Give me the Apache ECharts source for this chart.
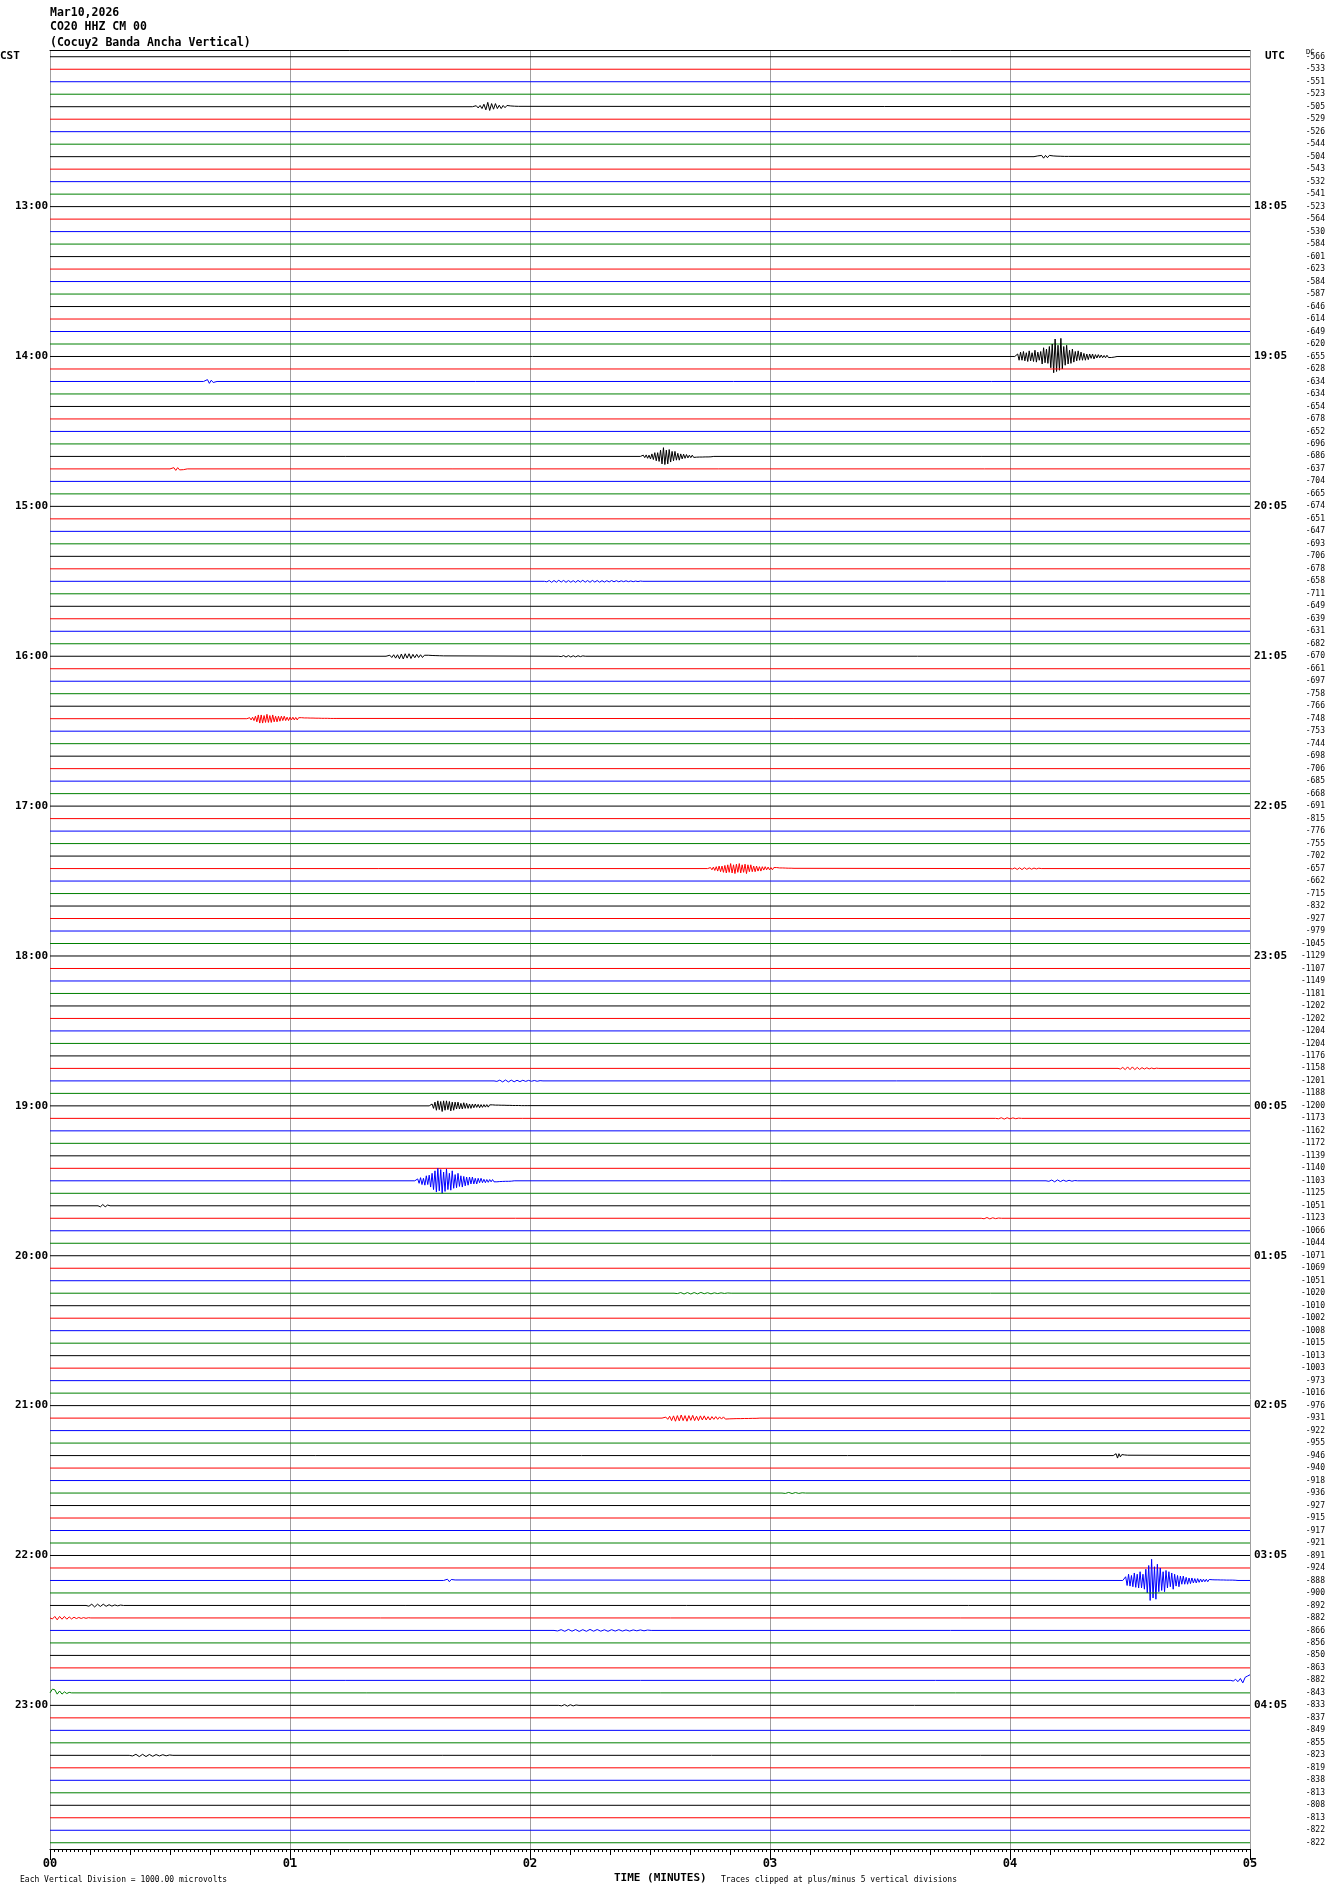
<!DOCTYPE html>
<html>
<head>
<meta charset="utf-8">
<script src="https://cdn.jsdelivr.net/npm/echarts@6/dist/echarts.min.js"></script>
<style>
html,body{margin:0;padding:0;background:#fff;}
#c{width:1330px;height:1894px;}
</style>
</head>
<body>
<div id="c"></div>
<script>
// ---- data ----
const traceCount = 144;
const traceColors = ['#000000', '#ff0000', '#0000ff', '#008000'];
const dcValues = [
 -566,-533,-551,-523,-505,-529,-526,-544,-504,-543,-532,-541,
 -523,-564,-530,-584,-601,-623,-584,-587,-646,-614,-649,-620,
 -655,-628,-634,-634,-654,-678,-652,-696,-686,-637,-704,-665,
 -674,-651,-647,-693,-706,-678,-658,-711,-649,-639,-631,-682,
 -670,-661,-697,-758,-766,-748,-753,-744,-698,-706,-685,-668,
 -691,-815,-776,-755,-702,-657,-662,-715,-832,-927,-979,-1045,
 -1129,-1107,-1149,-1181,-1202,-1202,-1204,-1204,-1176,-1158,-1201,-1188,
 -1200,-1173,-1162,-1172,-1139,-1140,-1103,-1125,-1051,-1123,-1066,-1044,
 -1071,-1069,-1051,-1020,-1010,-1002,-1008,-1015,-1013,-1003,-973,-1016,
 -976,-931,-922,-955,-946,-940,-918,-936,-927,-915,-917,-921,
 -891,-924,-888,-900,-892,-882,-866,-856,-850,-863,-882,-843,
 -833,-837,-849,-855,-823,-819,-838,-813,-808,-813,-822,-822
];
const hourTraces = [12,24,36,48,60,72,84,96,108,120,132];
const cstLabels = ['13:00','14:00','15:00','16:00','17:00','18:00','19:00','20:00','21:00','22:00','23:00'];
const utcLabels = ['18:05','19:05','20:05','21:05','22:05','23:05','00:05','01:05','02:05','03:05','04:05'];
const minuteLabels = ['00','01','02','03','04','05'];

// events: trace index, start (minutes), sample step (minutes), amplitudes (in trace spacings)
const eventTrace = [24,122,90,32,65,84,53,48,109,4,8,26,33,42,48,65,81,82,85,90,92,93,99,112,115,122,124,125,126,130,131,132,136];
const eventStart = [4.02,4.47,1.52,2.46,2.74,1.58,0.82,1.40,2.55,1.76,4.10,0.64,0.50,2.06,2.12,4.00,4.45,1.85,3.94,4.15,0.20,3.88,2.60,4.43,3.05,1.64,0.15,0.00,2.10,4.92,0.00,2.12,0.33];
const eventStep = [0.006,0.006,0.006,0.006,0.006,0.006,0.006,0.008,0.008,0.008,0.008,0.008,0.008,0.010,0.010,0.010,0.010,0.012,0.012,0.012,0.010,0.012,0.014,0.006,0.014,0.008,0.012,0.010,0.015,0.010,0.010,0.012,0.014];
const eventAmp = [
 [0.1,-0.2,0.3,-0.35,0.3,-0.4,0.35,-0.3,0.4,-0.45,0.35,-0.3,0.4,-0.5,0.45,-0.35,0.3,-0.4,0.6,-0.7,0.5,-0.6,0.55,-0.8,0.9,-1.0,1.3,-1.4,1.2,-0.9,1.1,-1.45,1.0,-0.8,0.7,-0.9,0.6,-0.5,0.55,-0.6,0.45,-0.4,0.35,-0.45,0.3,-0.35,0.3,-0.25,0.3,-0.2,0.25,-0.2,0.15,-0.2,0.2,-0.15,0.12,-0.15,0.1,-0.12,0.1,-0.08,0.1,-0.1,0.08,-0.06,0.08,-0.05,0.05,-0.04],
 [0.15,-0.3,0.4,-0.5,0.45,-0.4,0.5,-0.6,0.55,-0.5,0.6,-0.7,0.6,-0.5,0.7,-0.9,1.0,-1.2,1.6,-1.7,1.4,-1.1,1.5,-1.3,0.9,-1.0,0.8,-0.7,0.9,-0.8,0.6,-0.7,0.5,-0.6,0.7,-0.5,0.45,-0.4,0.5,-0.35,0.3,-0.35,0.3,-0.25,0.3,-0.2,0.25,-0.2,0.2,-0.15,0.2,-0.15,0.15,-0.12,0.12,-0.1,0.1,-0.1,0.1,-0.08,0.08,-0.06,0.06,-0.05,0.06,-0.05,0.05,-0.04,0.05,-0.04,0.04,-0.03,0.04,-0.03,0.03,-0.03,0.03,-0.02,0.02],
 [0.1,-0.15,0.2,-0.25,0.3,-0.2,0.35,-0.4,0.3,-0.45,0.5,-0.6,0.7,-0.8,0.9,-1.0,0.8,-0.9,1.0,-0.7,0.85,-0.95,0.7,-0.6,0.75,-0.8,0.6,-0.5,0.55,-0.6,0.45,-0.4,0.5,-0.35,0.4,-0.3,0.35,-0.3,0.25,-0.3,0.25,-0.2,0.25,-0.2,0.15,-0.2,0.15,-0.12,0.15,-0.1,0.12,-0.1,0.08,-0.1,0.08,-0.06,0.08,-0.05,0.06,-0.05,0.05,-0.04,0.04,-0.03,0.04,-0.03,0.03,-0.02],
 [0.05,-0.1,0.1,-0.12,0.15,-0.1,0.2,-0.2,0.25,-0.3,0.35,-0.3,0.4,-0.5,0.6,-0.7,0.65,-0.5,0.6,-0.55,0.45,-0.4,0.35,-0.4,0.3,-0.25,0.3,-0.2,0.2,-0.18,0.15,-0.15,0.12,-0.1,0.1,-0.1,0.08,-0.08,0.06,-0.06,0.05,-0.05,0.05,-0.04,0.04,-0.03,0.04,-0.03,0.03,-0.03],
 [0.05,-0.08,0.1,-0.12,0.15,-0.15,0.2,-0.2,0.25,-0.2,0.3,-0.25,0.35,-0.3,0.3,-0.4,0.35,-0.3,0.4,-0.35,0.3,-0.4,0.35,-0.3,0.3,-0.35,0.4,-0.3,0.25,-0.3,0.25,-0.2,0.25,-0.2,0.2,-0.15,0.2,-0.15,0.12,-0.15,0.1,-0.12,0.1,-0.08,0.1,-0.08,0.06,-0.08,0.06,-0.05,0.05,-0.05,0.04,-0.04,0.04,-0.03,0.03,-0.03,0.03,-0.02],
 [0.1,-0.15,0.2,-0.3,0.35,-0.4,0.3,-0.35,0.45,-0.4,0.35,-0.4,0.3,-0.35,0.4,-0.3,0.35,-0.3,0.25,-0.3,0.25,-0.2,0.25,-0.25,0.2,-0.2,0.2,-0.15,0.2,-0.15,0.15,-0.15,0.12,-0.12,0.15,-0.1,0.12,-0.1,0.1,-0.1,0.1,-0.08,0.08,-0.08,0.08,-0.06,0.06,-0.06,0.06,-0.05,0.05,-0.05,0.05,-0.04,0.04,-0.04,0.04,-0.03,0.04,-0.03,0.03,-0.03,0.03,-0.02,0.03,-0.02,0.02,-0.02,0.02,-0.02],
 [0.05,-0.08,0.1,-0.12,0.15,-0.2,0.25,-0.3,0.35,-0.3,0.35,-0.25,0.3,-0.35,0.3,-0.25,0.3,-0.3,0.25,-0.2,0.25,-0.2,0.2,-0.2,0.15,-0.2,0.15,-0.12,0.15,-0.12,0.1,-0.12,0.1,-0.1,0.1,-0.08,0.08,-0.08,0.08,-0.06,0.06,-0.06,0.06,-0.05,0.05,-0.05,0.05,-0.04,0.04,-0.04,0.04,-0.03,0.03,-0.03,0.03,-0.03,0.03,-0.02,0.02,-0.02,0.02,-0.02],
 [0.05,-0.08,0.1,-0.12,0.15,-0.12,0.2,-0.18,0.22,-0.2,0.15,-0.2,0.18,-0.15,0.12,-0.15,0.1,-0.12,0.1,-0.08,0.08,-0.08,0.06,-0.06,0.05,-0.05,0.04,-0.04,0.04,-0.03],
 [0.05,-0.08,0.1,-0.15,0.2,-0.18,0.25,-0.2,0.22,-0.25,0.2,-0.2,0.25,-0.2,0.18,-0.22,0.2,-0.15,0.2,-0.18,0.15,-0.18,0.15,-0.12,0.15,-0.12,0.1,-0.12,0.1,-0.1,0.08,-0.1,0.08,-0.06,0.06,-0.06,0.05,-0.05,0.04,-0.04,0.04,-0.03,0.03,-0.03,0.03,-0.02,0.02,-0.02,0.02,-0.02],
 [0.05,-0.08,0.1,-0.1,0.15,-0.2,0.25,-0.35,0.3,-0.25,0.2,-0.25,0.15,-0.12,0.15,-0.1,0.08,-0.1,0.06,-0.06,0.05,-0.04,0.04,-0.03],
 [0.04,-0.06,0.08,-0.1,0.12,-0.1,0.08,-0.1,0.06,-0.06,0.05,-0.04,0.04,-0.03,0.03,-0.02,0.02,-0.02],
 [0.1,-0.15,0.15,-0.1,0.08,-0.05],
 [0.05,-0.1,0.12,-0.1,0.08,-0.08,0.06,-0.04],
 [0.04,-0.06,0.08,-0.06,0.07,-0.08,0.06,-0.07,0.08,-0.06,0.07,-0.05,0.08,-0.07,0.06,-0.08,0.07,-0.06,0.08,-0.07,0.06,-0.06,0.07,-0.05,0.06,-0.05,0.05,-0.06,0.04,-0.05,0.04,-0.04,0.03,-0.04,0.03,-0.03,0.03,-0.02,0.02,-0.02],
 [0.03,-0.05,0.06,-0.05,0.06,-0.04,0.05,-0.04,0.03,-0.03],
 [0.03,-0.05,0.07,-0.06,0.08,-0.07,0.06,-0.05,0.05,-0.04,0.03,-0.03],
 [0.05,-0.08,0.1,-0.12,0.1,-0.12,0.1,-0.08,0.08,-0.06,0.05,-0.05,0.04,-0.03,0.03,-0.02],
 [0.04,-0.06,0.08,-0.07,0.08,-0.06,0.07,-0.05,0.06,-0.05,0.04,-0.04,0.03,-0.03,0.03,-0.02],
 [0.03,-0.05,0.06,-0.05,0.04,-0.04,0.03,-0.02],
 [0.04,-0.06,0.08,-0.07,0.06,-0.05,0.04,-0.04,0.03,-0.02],
 [0.08,-0.1,0.08,-0.06],
 [0.04,-0.06,0.05,-0.04,0.03,-0.02],
 [0.03,-0.05,0.06,-0.05,0.06,-0.05,0.05,-0.06,0.04,-0.04,0.05,-0.03,0.03,-0.03,0.02,-0.02],
 [0.05,-0.15,0.2,-0.15,0.1,-0.08,0.06,-0.05,0.04,-0.03],
 [0.03,-0.05,0.04,-0.04,0.03,-0.02],
 [0.06,-0.1,0.1,-0.08,0.06,-0.04],
 [0.06,-0.1,0.12,-0.1,0.08,-0.1,0.07,-0.06,0.05,-0.04,0.03,-0.03],
 [0.08,-0.12,0.15,-0.12,0.1,-0.12,0.1,-0.08,0.08,-0.06,0.05,-0.04,0.04,-0.03,0.03,-0.02],
 [0.04,-0.06,0.07,-0.08,0.06,-0.07,0.08,-0.06,0.07,-0.08,0.06,-0.07,0.06,-0.05,0.07,-0.06,0.05,-0.06,0.05,-0.04,0.05,-0.04,0.03,-0.04,0.03,-0.03],
 [0.05,-0.08,0.1,-0.15,0.2,-0.25,-0.35,-0.45,-0.5],
 [-0.3,-0.25,0.1,-0.15,0.1,-0.08,0.05,-0.04],
 [0.04,-0.06,0.06,-0.05,0.04,-0.03],
 [0.05,-0.08,0.1,-0.08,0.1,-0.07,0.08,-0.06,0.05,-0.05,0.04,-0.03]
];

// ---- build chart ----
const leftCat = [], rightCat = [], dcCat = [];
for (let i = 0; i < traceCount; i++) {
  const h = hourTraces.indexOf(i);
  leftCat.push(h >= 0 ? cstLabels[h] : '');
  rightCat.push(h >= 0 ? utcLabels[h] : '');
  dcCat.push(String(dcValues[i]));
}

const series = [];
for (let i = 0; i < traceCount; i++) {
  const evs = [];
  eventTrace.forEach((t, k) => { if (t === i) evs.push(k); });
  evs.sort((a, b) => eventStart[a] - eventStart[b]);
  const pts = [[0, i]];
  evs.forEach(k => {
    const t0 = eventStart[k], dt = eventStep[k], a = eventAmp[k];
    pts.push([t0, i]);
    for (let j = 0; j < a.length; j++) {
      const t = t0 + (j + 1) * dt;
      if (t <= 5) pts.push([t, i + a[j]]);
    }
    const tEnd = t0 + (a.length + 1) * dt;
    if (tEnd <= 5) pts.push([tEnd, i]);
  });
  if (pts[pts.length - 1][0] < 5) pts.push([5, i]);
  series.push({
    type: 'line', xAxisIndex: 0, yAxisIndex: 0, data: pts,
    symbol: 'none', silent: true, animation: false,
    lineStyle: { color: traceColors[i % 4], width: 1 }
  });
}

const mono = 'DejaVu Sans Mono';
const gridBox = { left: 50, right: 80, top: 50.5, bottom: 45, containLabel: false };
const noTick = { show: false };
const chart = echarts.init(document.getElementById('c'), null, { renderer: 'canvas' });
chart.setOption({
  backgroundColor: '#ffffff',
  animation: false,
  grid: [Object.assign({}, gridBox), Object.assign({}, gridBox)],
  xAxis: [
    {
      gridIndex: 0, type: 'value', min: 0, max: 5, interval: 1, position: 'bottom',
      axisLine: { show: true, onZero: false, lineStyle: { color: '#000', width: 1 } },
      axisTick: { show: true, length: 11, lineStyle: { color: '#000' } },
      minorTick: noTick,
      splitLine: { show: true, lineStyle: { color: '#a0a0a0', width: 1 } },
      axisLabel: { margin: 9, fontFamily: mono, fontWeight: 'bold', fontSize: 12, color: '#000',
        formatter: v => minuteLabels[Math.round(v)] },
    },
    {
      gridIndex: 1, type: 'value', min: 0, max: 5, interval: 1 / 6, position: 'bottom',
      axisLine: { show: false, onZero: false },
      axisTick: { show: true, length: 6, lineStyle: { color: '#000' } },
      minorTick: { show: true, splitNumber: 10, length: 3, lineStyle: { color: '#000' } },
      splitLine: { show: false },
      axisLabel: { show: false }
    },
    {
      gridIndex: 1, type: 'value', min: 0, max: 5, interval: 1, position: 'top',
      axisLine: { show: true, onZero: false, lineStyle: { color: '#000', width: 1 } },
      axisTick: noTick, minorTick: noTick, splitLine: noTick, minorSplitLine: noTick, axisLabel: noTick
    }
  ],
  yAxis: [
    { gridIndex: 0, type: 'value', min: -0.5, max: 143.5, inverse: true, show: false },
    {
      gridIndex: 0, type: 'category', data: leftCat, inverse: true, position: 'left', boundaryGap: true,
      axisLine: { show: false, onZero: false }, axisTick: noTick, splitLine: noTick,
      axisLabel: { interval: 0, margin: 2, fontFamily: mono, fontWeight: 'bold', fontSize: 11, color: '#000' }
    },
    {
      gridIndex: 0, type: 'category', data: rightCat, inverse: true, position: 'right', boundaryGap: true,
      axisLine: { show: false, onZero: false }, axisTick: noTick, splitLine: noTick,
      axisLabel: { interval: 0, margin: 4, fontFamily: mono, fontWeight: 'bold', fontSize: 11, color: '#000' }
    },
    {
      gridIndex: 0, type: 'category', data: dcCat, inverse: true, position: 'right', offset: 0, boundaryGap: true,
      axisLine: { show: false, onZero: false }, axisTick: noTick, splitLine: noTick,
      axisLabel: { interval: 0, margin: 75, align: 'right', fontFamily: mono, fontSize: 8, color: '#000' }
    },
    { gridIndex: 1, type: 'value', min: 0, max: 1, show: false }
  ],
  graphic: [
    { type: 'text', left: 50, top: 7.5, style: { text: 'Mar10,2026', font: 'bold 11.5px "DejaVu Sans Mono"', fill: '#000' } },
    { type: 'text', left: 50, top: 21.5, style: { text: 'CO20 HHZ CM 00', font: 'bold 11.5px "DejaVu Sans Mono"', fill: '#000' } },
    { type: 'text', left: 50, top: 37.5, style: { text: '(Cocuy2 Banda Ancha Vertical)', font: 'bold 11.5px "DejaVu Sans Mono"', fill: '#000' } },
    { type: 'text', left: 0, top: 51, style: { text: 'CST', font: 'bold 11px "DejaVu Sans Mono"', fill: '#000' } },
    { type: 'text', left: 1265, top: 51, style: { text: 'UTC', font: 'bold 11px "DejaVu Sans Mono"', fill: '#000' } },
    { type: 'text', left: 1306, top: 49, z: 10, style: { text: 'DC', font: '7px "DejaVu Sans Mono"', fill: '#000' } },
    { type: 'text', left: 614, top: 1873, style: { text: 'TIME (MINUTES)', font: 'bold 11px "DejaVu Sans Mono"', fill: '#000' } },
    { type: 'text', left: 20, top: 1876, style: { text: 'Each Vertical Division = 1000.00 microvolts', font: '8px "DejaVu Sans Mono"', fill: '#000' } },
    { type: 'text', left: 721, top: 1876, style: { text: 'Traces clipped at plus/minus 5 vertical divisions', font: '8px "DejaVu Sans Mono"', fill: '#000' } }
  ],
  series: series
});
</script>
</body>
</html>
